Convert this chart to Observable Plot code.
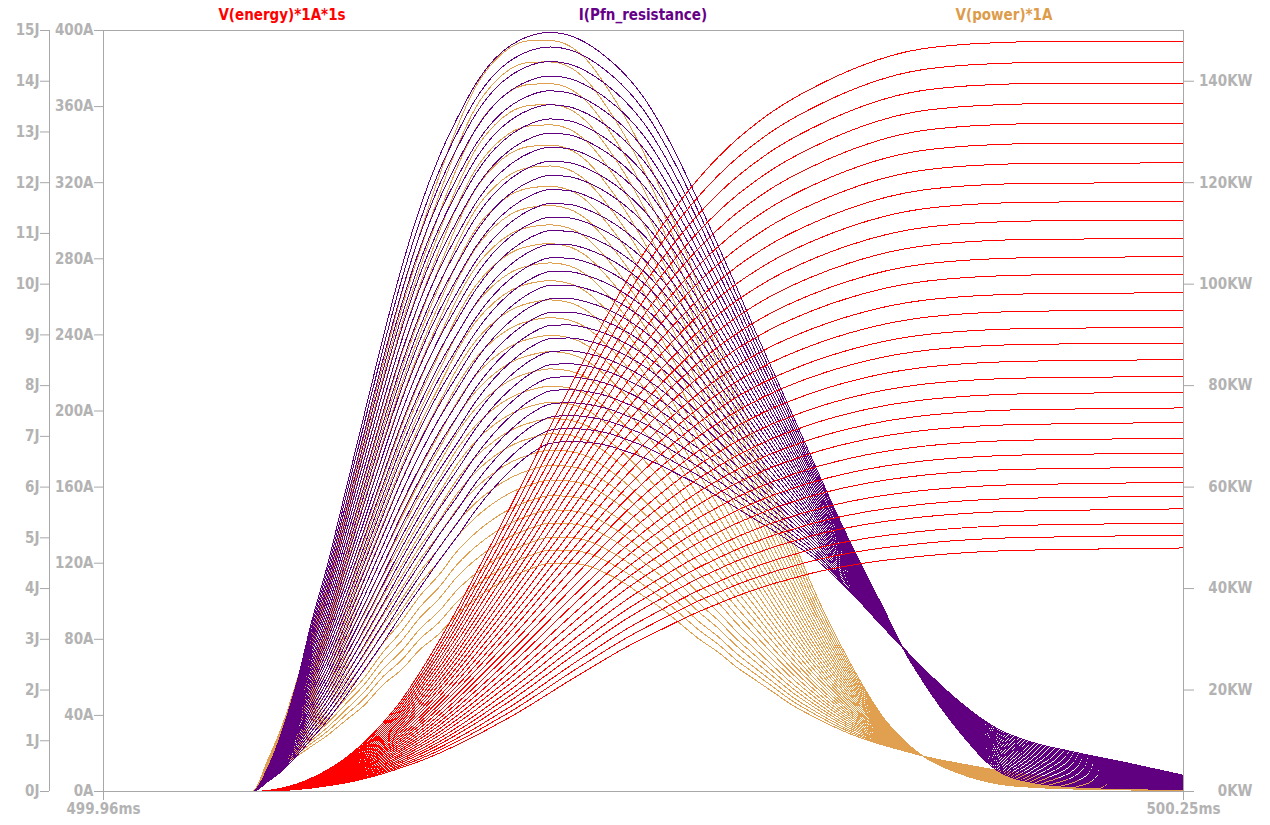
<!DOCTYPE html>
<html><head><meta charset="utf-8">
<script src="https://cdn.jsdelivr.net/npm/d3@7"></script>
<script src="https://cdn.jsdelivr.net/npm/@observablehq/plot@0.6"></script>
<style>
body{margin:0;background:#fff;}
#chart{position:relative;width:1270px;height:825px;}
.ttl{position:absolute;top:6px;font:bold 15px "DejaVu Sans Condensed","DejaVu Sans",sans-serif;font-stretch:condensed;transform:translateX(-50%);white-space:nowrap;}
</style></head><body><div id="chart"></div>
<script>
// time axis samples (ms)
const times = [499.96, 500.000, 500.004, 500.008, 500.012, 500.016, 500.020, 500.025, 500.030, 500.035, 500.040, 500.045, 500.050, 500.055, 500.060, 500.065, 500.070, 500.075, 500.080, 500.085, 500.090, 500.095, 500.100, 500.105, 500.110, 500.115, 500.120, 500.125, 500.130, 500.135, 500.140, 500.145, 500.150, 500.160, 500.170, 500.175, 500.180, 500.190, 500.200, 500.210, 500.220, 500.235, 500.250];
// I(Pfn_resistance) in A: highest-peak step and lowest-peak step
const currentOuter = [0, 0, 12, 32, 58, 90, 118, 158, 198, 238, 275, 307, 333, 354, 372, 385, 393, 397.5, 399, 397.5, 393, 386, 377, 365, 349, 330, 309, 287, 265, 242, 220, 198, 176, 133, 94, 74, 58, 31, 11, 4.5, 2.5, 1.5, 1];
const currentInner = [0, 0, 5, 11, 19, 28, 37, 50, 64, 78, 93, 107, 121, 134, 148, 160, 170, 178, 183, 184, 183.5, 182, 179, 175.5, 171, 166, 161, 155, 149, 143, 137, 130.5, 124, 106, 85, 75, 65, 47, 33, 25.5, 21, 15, 8.5];
// V(power)*1A in kW
const powerOuter = [0, 0, 6, 13, 22, 32, 42, 56, 70, 84, 98, 110, 121, 131, 139, 144, 147, 148, 148, 147, 144, 139, 133, 126, 118, 109, 99, 89, 79, 69, 59, 50, 41, 26, 14, 10, 7, 3.5, 1.5, 0.8, 0.5, 0.3, 0.2];
const powerInner = [0, 0, 3, 5, 7, 9, 11, 14, 17, 21, 24, 28, 31, 35, 38, 40.5, 42.5, 44, 45, 45, 44.5, 43, 41, 38.5, 36, 33, 30, 27.5, 24.5, 22, 19.5, 17, 15, 11.5, 9, 8, 7, 5.5, 4.2, 3.2, 2.4, 1.4, 0.6];
// V(energy)*1A*1s in J
const energyOuter = [0, 0, 0.02, 0.07, 0.15, 0.27, 0.42, 0.66, 0.97, 1.35, 1.8, 2.35, 2.95, 3.6, 4.3, 5.0, 5.72, 6.45, 7.2, 7.93, 8.65, 9.35, 10.0, 10.6, 11.15, 11.65, 12.1, 12.5, 12.85, 13.15, 13.42, 13.65, 13.85, 14.2, 14.47, 14.57, 14.64, 14.72, 14.76, 14.78, 14.78, 14.78, 14.78];
const energyInner = [0, 0, 0.01, 0.02, 0.04, 0.07, 0.11, 0.17, 0.25, 0.35, 0.47, 0.6, 0.75, 0.92, 1.1, 1.3, 1.5, 1.72, 1.95, 2.18, 2.4, 2.62, 2.83, 3.02, 3.2, 3.38, 3.55, 3.7, 3.85, 3.98, 4.1, 4.2, 4.3, 4.45, 4.56, 4.6, 4.64, 4.7, 4.74, 4.76, 4.77, 4.79, 4.8];
// per-step levels (31 steps)
const currentPeaks = [398.9, 391.3, 383.7, 376.1, 368.4, 361.1, 353.7, 346.3, 338.9, 331.6, 324.2, 316.8, 309.5, 302.4, 295.3, 288.2, 281.1, 273.9, 266.8, 259.7, 252.6, 245.8, 238.9, 232.1, 225.3, 218.4, 211.6, 204.7, 197.9, 191.1, 184.2];
const powerPeaks = [148.0, 143.8, 139.5, 135.4, 131.4, 127.4, 123.3, 119.3, 115.5, 111.7, 108.0, 104.2, 100.7, 96.9, 93.4, 89.9, 86.7, 83.3, 79.9, 76.7, 73.5, 70.5, 67.3, 64.3, 61.4, 58.3, 55.5, 52.9, 50.1, 47.6, 45.0];
const energyFinals = [14.78, 14.37, 13.96, 13.56, 13.17, 12.78, 12.39, 12.0, 11.63, 11.26, 10.90, 10.54, 10.20, 9.83, 9.49, 9.15, 8.84, 8.51, 8.18, 7.87, 7.56, 7.27, 6.96, 6.67, 6.39, 6.09, 5.82, 5.57, 5.29, 5.05, 4.80];
// axis ticks
const ampTicks = [0, 40, 80, 120, 160, 200, 240, 280, 320, 360, 400];
const jouleTicks = [0, 1, 2, 3, 4, 5, 6, 7, 8, 9, 10, 11, 12, 13, 14, 15];
const kwTicks = [0, 20, 40, 60, 80, 100, 120, 140];
const timeTicks = [499.96, 500.25];
const titles = [
  {text: "V(energy)*1A*1s", color: "#ff0000", x: 282},
  {text: "I(Pfn_resistance)", color: "#660088", x: 643},
  {text: "V(power)*1A", color: "#dd9c4a", x: 1004}
];

// build step traces from the outer/inner read curves and the read step levels
function steps(outer, inner, levels) {
  const hi = levels[0], lo = levels[levels.length - 1];
  const rows = [];
  levels.forEach((lv, k) => {
    const w = (lv - lo) / (hi - lo);
    times.forEach((t, i) => rows.push({k, t, v: inner[i] + w * (outer[i] - inner[i])}));
  });
  return rows;
}
const ampPerJ = 400 / 15, ampPerKW = 400 / 150;
const energyRows = steps(energyOuter, energyInner, energyFinals);
const currentRows = steps(currentOuter, currentInner, currentPeaks);
const powerRows = steps(powerOuter, powerInner, powerPeaks);

const axisColor = "#a8a8a8";
const chart = Plot.plot({
  width: 1270, height: 825,
  marginLeft: 103, marginRight: 87, marginTop: 30, marginBottom: 34,
  x: {domain: [499.96, 500.25]},
  y: {domain: [0, 400]},
  style: {background: "#ffffff", fontFamily: '"DejaVu Sans Condensed","DejaVu Sans",sans-serif', fontSize: "15px", fontWeight: "bold", color: "#b3b3b3", fontStretch: "condensed"},
  marks: [
    Plot.line(powerRows, {x: "t", y: d => d.v * ampPerKW, z: "k", stroke: "#e0a050", strokeWidth: 1, curve: "monotone-x", shapeRendering: "crispEdges"}),
    Plot.line(currentRows, {x: "t", y: "v", z: "k", stroke: "#600080", strokeWidth: 1, curve: "monotone-x", shapeRendering: "crispEdges"}),
    Plot.line(energyRows, {x: "t", y: d => d.v * ampPerJ, z: "k", stroke: "#ff0000", strokeWidth: 1, curve: "monotone-x", shapeRendering: "crispEdges"}),
    Plot.frame({stroke: axisColor}),
    Plot.ruleX([499.96], {dx: -54, stroke: axisColor}),
    Plot.axisY({anchor: "left", label: null, ticks: ampTicks, tickFormat: d => d + "A", tickSize: 9, tickPadding: 1, stroke: axisColor}),
    Plot.axisY({anchor: "left", label: null, ticks: jouleTicks.map(j => j * ampPerJ), tickFormat: d => Math.round(d / ampPerJ) + "J", tickSize: 9, tickPadding: 1, dx: -54, stroke: axisColor}),
    Plot.axisY({anchor: "right", label: null, ticks: kwTicks.map(k => k * ampPerKW), tickFormat: d => Math.round(d / ampPerKW) + "KW", tickSize: 10, tickPadding: 59, textAnchor: "end", stroke: axisColor}),
    Plot.axisX({label: null, ticks: timeTicks, tickFormat: d => d.toFixed(2) + "ms", tickSize: 9, tickPadding: 3, stroke: axisColor})
  ]
});
const root = document.getElementById("chart");
root.appendChild(chart);
for (const t of titles) {
  const d = document.createElement("div");
  d.className = "ttl"; d.textContent = t.text; d.style.color = t.color; d.style.left = t.x + "px";
  root.appendChild(d);
}
</script>
</body></html>
